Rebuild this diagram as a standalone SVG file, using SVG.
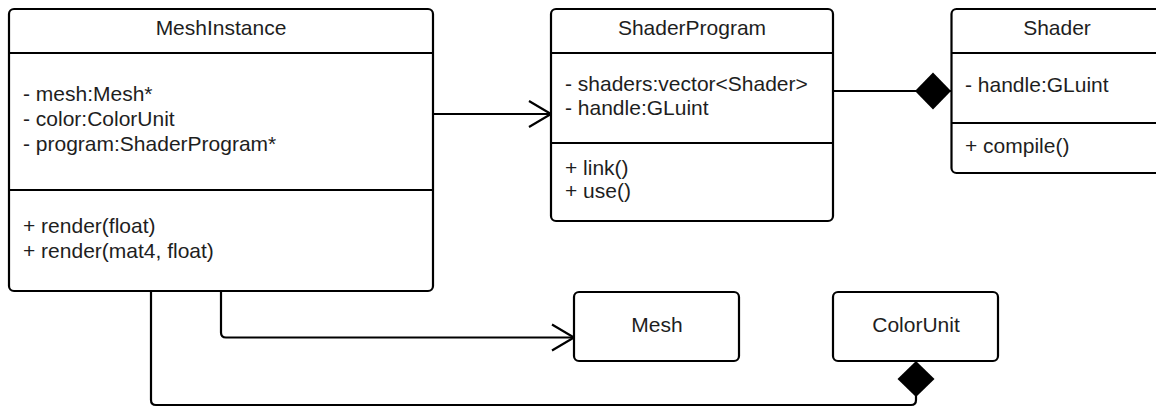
<svg xmlns="http://www.w3.org/2000/svg" width="1156" height="407" viewBox="0 0 1156 407">
<style>
.box{fill:#fff;stroke:#000;stroke-width:2.2}
.sep{stroke:#000;stroke-width:2.2;fill:none}
.t{font-family:"Liberation Sans",Arial,sans-serif;font-size:21px;fill:#1e1e1e}
.c{text-anchor:middle}
.ln{fill:none;stroke:#000;stroke-width:2.2}
</style>
<defs>
<marker id="open" markerUnits="userSpaceOnUse" markerWidth="26" markerHeight="30" viewBox="-2 -2 26 30" refX="22" refY="13" orient="auto" overflow="visible">
<path d="M0,0 L22,13 L0,26" fill="none" stroke="#000" stroke-width="2.2"/>
</marker>
<marker id="diamond" markerUnits="userSpaceOnUse" markerWidth="38" markerHeight="40" viewBox="0 0 38 40" refX="36" refY="18.5" orient="auto" overflow="visible">
<path d="M0,18.5 L18,0 L36,18.5 L18,37 Z" fill="#000"/>
</marker>
</defs>
<rect width="1156" height="407" fill="#fff"/>
<g id="connectors">
<path class="ln" d="M433,114 H551" marker-end="url(#open)"/>
<path class="ln" d="M833,91 H951" marker-end="url(#diamond)"/>
<path class="ln" d="M221,291 V332.5 Q221,337.5 226,337.5 H574" marker-end="url(#open)"/>
<path class="ln" d="M151,291 V400 Q151,405 156,405 H911 Q916,405 916,400 V361" marker-end="url(#diamond)"/>
</g>
<g id="MeshInstance">
<rect class="box" x="9" y="9" width="424" height="282" rx="5"/>
<path class="sep" d="M9,53 H433 M9,190 H433"/>
<text class="t c" x="221" y="35">MeshInstance</text>
<text class="t" x="23" y="101">- mesh:Mesh*</text>
<text class="t" x="23" y="126">- color:ColorUnit</text>
<text class="t" x="23" y="151">- program:ShaderProgram*</text>
<text class="t" x="23" y="233">+ render(float)</text>
<text class="t" x="23" y="258">+ render(mat4, float)</text>
</g>
<g id="ShaderProgram">
<rect class="box" x="551" y="9" width="282" height="212" rx="5"/>
<path class="sep" d="M551,53 H833 M551,143 H833"/>
<text class="t c" x="692" y="35">ShaderProgram</text>
<text class="t" x="565" y="90.5">- shaders:vector&lt;Shader&gt;</text>
<text class="t" x="565" y="115">- handle:GLuint</text>
<text class="t" x="565" y="175">+ link()</text>
<text class="t" x="565" y="198">+ use()</text>
</g>
<g id="Shader">
<rect class="box" x="951.5" y="9" width="212" height="164" rx="5"/>
<path class="sep" d="M951.5,53 H1163 M951.5,123 H1163"/>
<text class="t c" x="1057" y="35">Shader</text>
<text class="t" x="965" y="92">- handle:GLuint</text>
<text class="t" x="965" y="153">+ compile()</text>
</g>
<g id="Mesh">
<rect class="box" x="574" y="292" width="165" height="69" rx="5"/>
<text class="t c" x="657" y="331.5">Mesh</text>
</g>
<g id="ColorUnit">
<rect class="box" x="833" y="292" width="165" height="69" rx="5"/>
<text class="t c" x="916" y="331.5">ColorUnit</text>
</g>
</svg>
